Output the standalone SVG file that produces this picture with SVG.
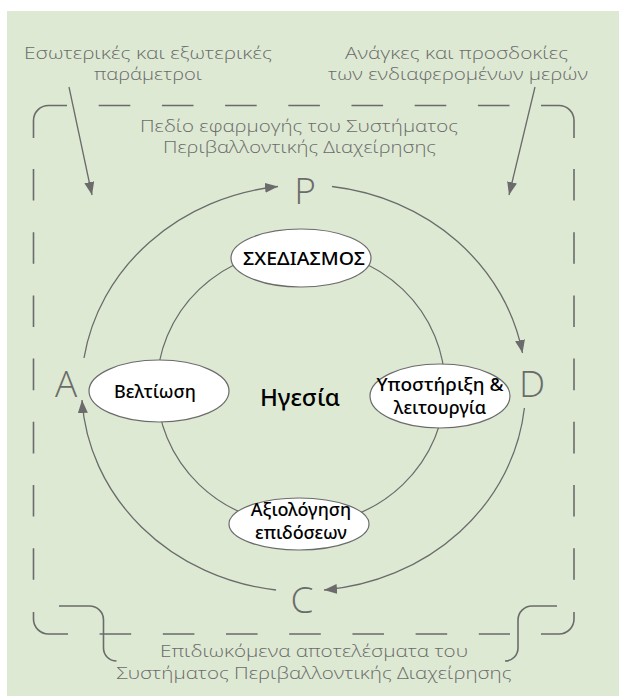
<svg xmlns="http://www.w3.org/2000/svg" width="619" height="696" viewBox="0 0 619 696">
  <style>
    .lbl { font-family: "Open Sans", "Noto Sans", "DejaVu Sans", sans-serif; font-weight: 300; font-size: 16px; fill: #6b6b6b; text-anchor: middle; }
    .big { font-family: "Open Sans", "Noto Sans", "DejaVu Sans", sans-serif; font-weight: 300; font-size: 37px; fill: #6b6b6b; text-anchor: middle; }
    .node ellipse { fill: #ffffff; stroke: #6b6b6b; stroke-width: 1.2; }
    .node text { font-family: "Noto Sans", "Open Sans", "DejaVu Sans", sans-serif; font-weight: 500; font-size: 18px; fill: #000000; text-anchor: middle; }
    .ring { fill: none; stroke: #6b6b6b; stroke-width: 1.2; }
    .arc { fill: none; stroke: #6b6b6b; stroke-width: 1.3; marker-end: url(#ah); }
    .frame { fill: none; stroke: #6b6b6b; stroke-width: 1.6; }
    .dash { fill: none; stroke: #6b6b6b; stroke-width: 1.6; stroke-dasharray: 31.6 31.6; }
  </style>
  <defs>
    <marker id="ah" markerUnits="userSpaceOnUse" markerWidth="14" markerHeight="12" refX="13" refY="5" orient="auto">
      <path d="M0,0 L13,5 L0,10 z" fill="#6b6b6b"/>
    </marker>
  </defs>

  <rect x="7" y="11" width="612" height="685" fill="#dde9d3"/>

  <!-- dashed scope frame -->
  <g id="scope-frame">
    <path class="frame" d="M33.5,138 V120.5 A15,15 0 0 1 48.5,105.5 H67"/>
    <path class="frame" d="M541,105.5 H559 A15,15 0 0 1 574,120.5 V138"/>
    <path class="frame" d="M33.5,612 V619 A15,15 0 0 0 48.5,634 H68"/>
    <path class="frame" d="M541,634 H559 A15,15 0 0 0 574,619 V612"/>
    <path class="dash" d="M98.7,105.5 H510"/>
    <path class="dash" d="M99.6,634 H510"/>
    <path class="dash" d="M33.5,169 V581"/>
    <path class="dash" d="M574,169 V581"/>
    <!-- brackets for outcomes -->
    <path class="frame" d="M59,606 H89 A14,14 0 0 1 103.5,620 V648 A13,13 0 0 0 116.5,661"/>
    <path class="frame" d="M557,606 H532 A14,14 0 0 0 518,620 V648 A13,13 0 0 1 505,661"/>
  </g>

  <!-- labels -->
  <g id="label-internal-external">
    <text class="lbl" x="148" y="59" textLength="248" lengthAdjust="spacingAndGlyphs">Εσωτερικές και εξωτερικές</text>
    <text class="lbl" x="148" y="80" textLength="108" lengthAdjust="spacingAndGlyphs">παράμετροι</text>
  </g>
  <g id="label-needs">
    <text class="lbl" x="456.5" y="59" textLength="223" lengthAdjust="spacingAndGlyphs">Ανάγκες και προσδοκίες</text>
    <text class="lbl" x="458" y="80" textLength="260" lengthAdjust="spacingAndGlyphs">των ενδιαφερομένων μερών</text>
  </g>
  <g id="label-scope">
    <text class="lbl" x="299" y="131.5" textLength="318" lengthAdjust="spacingAndGlyphs">Πεδίο εφαρμογής του Συστήματος</text>
    <text class="lbl" x="299.5" y="153" textLength="273" lengthAdjust="spacingAndGlyphs">Περιβαλλοντικής Διαχείρησης</text>
  </g>
  <g id="label-outcomes">
    <text class="lbl" x="314" y="657" textLength="308" lengthAdjust="spacingAndGlyphs">Επιδιωκόμενα αποτελέσματα του</text>
    <text class="lbl" x="314" y="679" textLength="395" lengthAdjust="spacingAndGlyphs">Συστήματος Περιβαλλοντικής Διαχείρησης</text>
  </g>

  <!-- PDCA letters -->
  <g id="P"><text class="big" x="305" y="204">P</text></g>
  <g id="D"><text class="big" x="532" y="397">D</text></g>
  <g id="C"><text class="big" x="302" y="613">C</text></g>
  <g id="A"><text class="big" x="66" y="397">A</text></g>

  <!-- connectors -->
  <g id="connectors">
    <line class="arc" x1="69" y1="87" x2="92" y2="195"/>
    <line class="arc" x1="535" y1="87" x2="509" y2="195"/>
    <path class="arc" d="M84,358 A222,204 0 0 1 278,186.5"/>
    <path class="arc" d="M332,186.5 A222,204 0 0 1 522.5,353"/>
    <path class="arc" d="M524.4,408 A222,204 0 0 1 324,590"/>
    <path class="arc" d="M276,590 A222,204 0 0 1 82,400"/>
    <ellipse class="ring" cx="301" cy="387" rx="144" ry="138"/>
  </g>

  <!-- nodes -->
  <g id="node-planning" class="node">
    <ellipse cx="301" cy="258" rx="70" ry="29"/>
    <text x="304" y="265" textLength="122" lengthAdjust="spacingAndGlyphs">ΣΧΕΔΙΑΣΜΟΣ</text>
  </g>
  <g id="node-improvement" class="node">
    <ellipse cx="159" cy="391" rx="70" ry="31"/>
    <text x="155" y="398" font-size="19">Βελτίωση</text>
  </g>
  <g id="node-support" class="node">
    <ellipse cx="440" cy="396" rx="70" ry="32"/>
    <text x="440" y="391" textLength="127" lengthAdjust="spacingAndGlyphs">Υποστήριξη &amp;</text>
    <text x="440" y="414">λειτουργία</text>
  </g>
  <g id="node-evaluation" class="node">
    <ellipse cx="299" cy="524" rx="70" ry="26"/>
    <text x="301" y="516">Αξιολόγηση</text>
    <text x="301" y="539">επιδόσεων</text>
  </g>
  <g id="leadership">
    <text x="300" y="406" font-family="Noto Sans, Open Sans, DejaVu Sans, sans-serif" font-weight="500" font-size="24" fill="#000" text-anchor="middle">Ηγεσία</text>
  </g>
</svg>
